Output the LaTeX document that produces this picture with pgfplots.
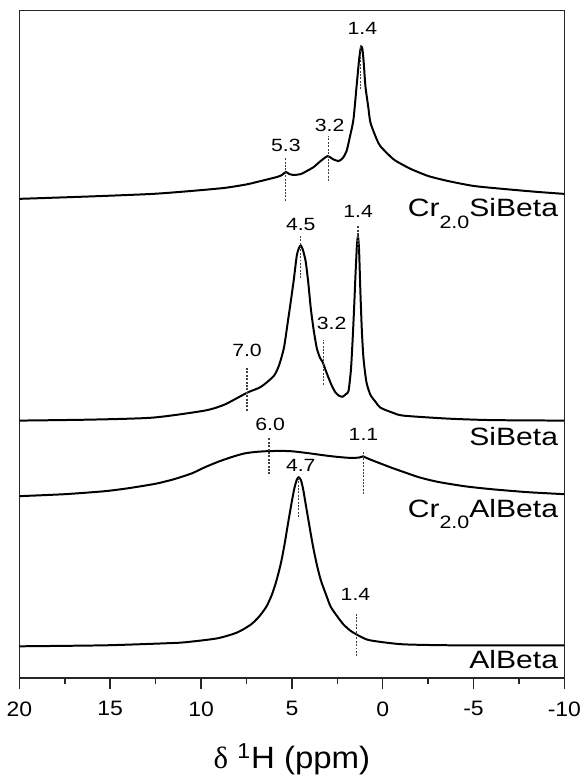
\documentclass[border=0pt]{standalone}
\usepackage{fontspec}
\setmainfont{Liberation Sans}
\newfontfamily\seriffont{Liberation Serif}
\newfontfamily\labelfont[FakeStretch=1.2]{Liberation Sans}
\newfontfamily\tickfont[FakeStretch=1.1]{Liberation Sans}
\newfontfamily\xlabfont[FakeStretch=1.07]{Liberation Sans}
\usepackage{pgfplots}
\pgfplotsset{compat=1.18}
\tikzset{
  pl/.style={font=\labelfont\fontsize{8.9}{10}\selectfont, inner sep=0pt},
  sl/.style={font=\labelfont\fontsize{12.6}{14}\selectfont, anchor=base east, inner sep=0pt},
}
\begin{document}
\begin{tikzpicture}
\begin{axis}[
  scale only axis, width=274pt, height=335.6pt,
  xmin=-10, xmax=20, x dir=reverse,
  ymin=0, ymax=671.3,
  xtick={-10,-5,...,20}, minor x tick num=1,
  ytick=\empty,
  xtick pos=bottom, tick align=outside,
  major tick length=5.5pt, minor tick length=3pt,
  axis line style={line width=0.75pt, black!85},
  every tick/.style={line width=0.75pt, black!85},
  tick label style={font=\tickfont\fontsize{10.5}{12}\selectfont, yshift=-2.75pt},
  /pgf/number format/assume math mode=true,
  xlabel={{\seriffont δ} \textsuperscript{1}H (ppm)},
  xlabel style={font=\xlabfont\fontsize{15.5}{18}\selectfont, yshift=-6.9pt},
  clip=false,
  spec/.style={black, line width=1pt, smooth, tension=0.4},
  pk/.style={black!75, line width=0.6pt, dash pattern=on 1pt off 0.7pt},
]
% Cr2.0SiBeta
\addplot[spec] coordinates {
(20,482) (16,484.5) (12.65,487) (10.5,490) (8.72,493) (7.5,496.5) (6.92,499)
(5.82,504) (5.55,506) (5.33,509) (5.15,507) (4.89,506) (4.5,507) (4.18,510)
(3.8,514) (3.42,520) (3.03,525) (2.75,522) (2.43,520) (2.2,523) (1.99,530)
(1.8,545) (1.61,562) (1.44,595) (1.3,622) (1.22,633) (1.17,635) (1.12,633)
(1.05,620) (0.95,595) (0.8,575) (0.68,559) (0.4,545) (0.13,535) (-0.58,522)
(-1.13,516) (-1.55,512) (-2.5,505) (-3.58,500) (-5,495) (-6.63,492) (-8.5,489) (-10,487)};
% SiBeta
\addplot[spec] coordinates {
(20,259) (16,260) (12.65,262) (9.82,269) (8.72,275) (7.47,287) (6.70,293)
(5.99,304) (5.7,315) (5.44,332) (5.25,355) (5.06,379) (4.9,400) (4.73,425)
(4.6,433) (4.51,435) (4.4,431) (4.24,419) (4.1,398) (3.96,372) (3.8,350)
(3.63,332) (3.45,322) (3.31,318) (3.15,310) (2.98,302) (2.8,294) (2.59,287)
(2.4,284) (2.21,283) (2.0,286) (1.88,289) (1.75,310) (1.66,339) (1.58,370)
(1.50,405) (1.42,435) (1.36,444) (1.30,430) (1.23,389) (1.15,350) (1.06,322)
(0.9,298) (0.68,285) (0.4,278) (0.13,272) (-0.54,267) (-1.13,264) (-3.58,261)
(-6,259.5) (-10,259)};
% Cr2.0AlBeta
\addplot[spec] coordinates {
(20,183) (17.5,185) (15.3,188) (14,191) (12.5,195.5) (11.5,200) (10.5,206)
(9.8,212) (9,218) (8.2,223) (7.6,226) (7,227.5) (6.3,228.3) (5.5,228.5)
(4.9,228) (4,226) (3.2,224) (2.5,222.5) (1.8,221.5) (1.3,221.8) (1.1,223)
(0.9,221.5) (0.5,218.5) (0,215) (-0.5,211.5) (-1.2,207) (-2,202) (-3,197.5)
(-4.5,193) (-6,190) (-8,187) (-10,185)};
% AlBeta
\addplot[spec] coordinates {
(20,32) (15.29,33) (12,35) (10.91,36) (9.11,40) (8,46) (7.25,54) (6.8,62)
(6.4,72) (6.1,84) (5.85,98) (5.6,116) (5.4,135) (5.2,157) (5.0,178)
(4.85,192) (4.72,200) (4.62,202) (4.5,199) (4.38,190) (4.25,176) (4.1,160)
(3.95,144) (3.8,129) (3.6,112) (3.4,98) (3.1,83) (2.87,72) (2.5,62) (2.16,54)
(1.8,48) (1.45,44) (0.9,39) (0.35,37) (-1.13,34) (-4,33) (-10,33)};
% peak markers
\addplot[pk] coordinates {(5.33,480) (5.33,524)};
\addplot[pk] coordinates {(2.98,500) (2.98,545)};
\addplot[pk] coordinates {(1.24,592) (1.24,637)};
\addplot[pk] coordinates {(4.51,402) (4.51,445)};
\addplot[pk] coordinates {(1.36,432) (1.36,455)};
\addplot[pk] coordinates {(3.25,295) (3.25,340)};
\addplot[pk] coordinates {(7.47,269) (7.47,313)};
\addplot[pk] coordinates {(6.26,205) (6.26,242)};
\addplot[pk] coordinates {(1.06,185) (1.06,229)};
\addplot[pk] coordinates {(4.62,162) (4.62,202)};
\addplot[pk] coordinates {(1.45,22) (1.45,65)};
% peak labels
\node[pl] at (axis cs:5.33,536) {5.3};
\node[pl] at (axis cs:2.92,556) {3.2};
\node[pl] at (axis cs:1.12,653) {1.4};
\node[pl] at (axis cs:4.51,456) {4.5};
\node[pl] at (axis cs:1.35,469) {1.4};
\node[pl] at (axis cs:2.81,357) {3.2};
\node[pl] at (axis cs:7.47,330) {7.0};
\node[pl] at (axis cs:6.2,255) {6.0};
\node[pl] at (axis cs:1.06,245) {1.1};
\node[pl] at (axis cs:4.51,214) {4.7};
\node[pl] at (axis cs:1.50,84) {1.4};
% sample labels
\node[sl] at (axis cs:-9.67,464) {Cr\raisebox{-0.45em}{\fontsize{9}{10}\selectfont 2.0}SiBeta};
\node[sl] at (axis cs:-9.67,234) {SiBeta};
\node[sl] at (axis cs:-9.67,162) {Cr\raisebox{-0.45em}{\fontsize{9}{10}\selectfont 2.0}AlBeta};
\node[sl] at (axis cs:-9.67,10) {AlBeta};
\end{axis}
\path ([yshift=5.35pt]current axis.north west);
\end{tikzpicture}
\end{document}
